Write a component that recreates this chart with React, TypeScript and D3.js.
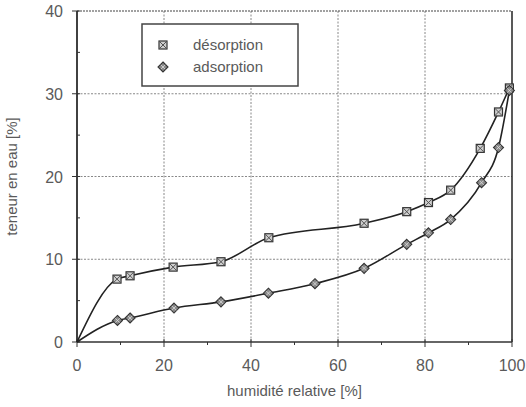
import React from 'react'
import * as d3 from 'd3'

// relative humidity [%] and water content [%]
const desorptionX = [0, 9.2, 12.2, 22.1, 33.1, 44.1, 66, 75.8, 80.8, 85.9, 92.7, 96.9, 99.4]
const desorptionY = [0, 7.6, 8.0, 9.05, 9.7, 12.6, 14.35, 15.75, 16.85, 18.35, 23.4, 27.8, 30.7]
const adsorptionX = [0, 9.3, 12.2, 22.3, 33.1, 44, 54.7, 66, 75.8, 80.8, 85.9, 93, 96.9, 99.4]
const adsorptionY = [0, 2.6, 2.9, 4.1, 4.85, 5.9, 7.05, 8.9, 11.8, 13.2, 14.8, 19.25, 23.5, 30.4]
const xTicks = [0, 20, 40, 60, 80, 100]
const yTicks = [0, 10, 20, 30, 40]
const xMinor = [10, 30, 50, 70, 90]
const yMinor = [5, 15, 25, 35]

const font = '"Liberation Sans", Arial, sans-serif'
const textColor = '#5a5a5a'

export default function App() {
  const left = 77, right = 512, top = 11, bottom = 342
  const x = d3.scaleLinear().domain([0, 100]).range([left, right])
  const y = d3.scaleLinear().domain([0, 40]).range([bottom, top])

  const line = d3.line<[number, number]>()
    .x(d => x(d[0]))
    .y(d => y(d[1]))
    .curve(d3.curveMonotoneX)

  const des: [number, number][] = desorptionX.map((v, i) => [v, desorptionY[i]])
  const ads: [number, number][] = adsorptionX.map((v, i) => [v, adsorptionY[i]])

  const square = (cx: number, cy: number, key: string | number) => (
    <g key={key} transform={`translate(${cx},${cy})`}>
      <rect x={-4} y={-4} width={8} height={8} fill="#cfcfcf" stroke="#333" strokeWidth={1.2} />
      <path d="M-3.5,-3.5L3.5,3.5M-3.5,3.5L3.5,-3.5" stroke="#555" strokeWidth={1} />
    </g>
  )
  const diamond = (cx: number, cy: number, key: string | number) => (
    <g key={key} transform={`translate(${cx},${cy})`}>
      <path d="M0,-5L5,0L0,5L-5,0Z" fill="#8a8a8a" stroke="#333" strokeWidth={1.1} />
      <path d="M-2.2,-2.2L2.2,2.2M-2.2,2.2L2.2,-2.2" stroke="#ddd" strokeWidth={0.8} />
    </g>
  )

  return (
    <svg width={526} height={407} style={{ position: 'absolute', left: 0, top: 0, background: '#fff' }}>
      {/* grid */}
      {xTicks.slice(1, -1).map(t => (
        <line key={'gx' + t} x1={x(t)} x2={x(t)} y1={top} y2={bottom}
          stroke="#888" strokeWidth={1} strokeDasharray="2,1.5" />
      ))}
      {yTicks.slice(1, -1).map(t => (
        <line key={'gy' + t} x1={left} x2={right} y1={y(t)} y2={y(t)}
          stroke="#888" strokeWidth={1} strokeDasharray="2,1.5" />
      ))}
      {/* frame */}
      <line x1={left} x2={right} y1={top} y2={top} stroke="#444" strokeWidth={1.2} strokeDasharray="2,1" />
      <line x1={left} x2={left} y1={top} y2={bottom} stroke="#111" strokeWidth={1.6} />
      <line x1={right} x2={right} y1={top} y2={bottom} stroke="#222" strokeWidth={1.5} />
      <line x1={left} x2={right} y1={bottom} y2={bottom} stroke="#333" strokeWidth={1.4} />

      {/* ticks */}
      {xTicks.map(t => (
        <line key={'tx' + t} x1={x(t)} x2={x(t)} y1={bottom - 3} y2={bottom + 5} stroke="#333" />
      ))}
      {xMinor.map(t => (
        <line key={'mx' + t} x1={x(t)} x2={x(t)} y1={bottom} y2={bottom + 3} stroke="#333" />
      ))}
      {yTicks.map(t => (
        <line key={'ty' + t} x1={left - 5} x2={left + 3} y1={y(t)} y2={y(t)} stroke="#333" />
      ))}
      {yMinor.map(t => (
        <line key={'my' + t} x1={left} x2={left + 3} y1={y(t)} y2={y(t)} stroke="#333" />
      ))}

      {/* tick labels */}
      {xTicks.map(t => (
        <text key={'lx' + t} x={x(t)} y={bottom + 29} textAnchor="middle"
          fontFamily={font} fontSize={16} fill={textColor}>{t}</text>
      ))}
      {yTicks.map(t => (
        <text key={'ly' + t} x={left - 14} y={y(t) + 6} textAnchor="end"
          fontFamily={font} fontSize={16} fill={textColor}>{t}</text>
      ))}

      {/* axis titles */}
      <text x={(left + right) / 2} y={396} textAnchor="middle" fontFamily={font} fontSize={15} fill={textColor}>
        humidité relative [%]
      </text>
      <text transform={`translate(17,${(top + bottom) / 2}) rotate(-90)`} textAnchor="middle"
        fontFamily={font} fontSize={15} fill={textColor}>
        teneur en eau [%]
      </text>

      {/* curves */}
      <path d={line(des) || ''} fill="none" stroke="#222" strokeWidth={1.6} />
      <path d={line(ads) || ''} fill="none" stroke="#222" strokeWidth={1.6} />
      {des.slice(1).map((d, i) => square(x(d[0]), y(d[1]), 'd' + i))}
      {ads.slice(1).map((d, i) => diamond(x(d[0]), y(d[1]), 'a' + i))}

      {/* legend */}
      <rect x={142} y={24} width={156} height={62} fill="#fff" stroke="#444" strokeWidth={1.5} />
      {square(163, 45, 'ls')}
      {diamond(163, 67, 'la')}
      <text x={193} y={50} fontFamily={font} fontSize={15} fill={textColor}>désorption</text>
      <text x={193} y={72} fontFamily={font} fontSize={15} fill={textColor}>adsorption</text>
    </svg>
  )
}
